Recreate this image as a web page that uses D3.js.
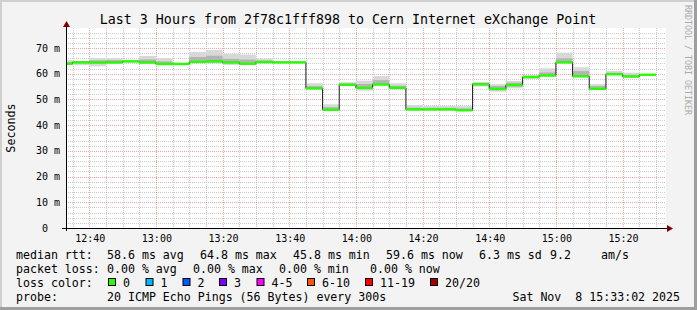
<!DOCTYPE html>
<html>
<head>
<meta charset="utf-8">
<script src="https://cdn.jsdelivr.net/npm/d3@7"></script>
<style>
  html, body { margin: 0; padding: 0; background: #f3f3f3; }
  svg { display: block; font-family: "DejaVu Sans Mono", monospace; }
  text { white-space: pre; }
</style>
</head>
<body>
<div id="chart"></div>
<script>
// ---- data (5 minute steps, median rtt in ms) ----
const stepStarts = ["12:30","12:35","12:40","12:45","12:50","12:55","13:00","13:05","13:10","13:15","13:20","13:25",
  "13:30","13:35","13:40","13:45","13:50","13:55","14:00","14:05","14:10","14:15","14:20","14:25",
  "14:30","14:35","14:40","14:45","14:50","14:55","15:00","15:05","15:10","15:15","15:20","15:25"];
const medianRtt = [63.9,64.4,64.4,64.4,64.8,64.4,63.8,63.8,64.6,64.8,64.4,63.9,
  64.5,64.4,64.4,54.3,46.0,55.7,54.5,55.8,54.5,46.1,46.1,46.1,
  45.8,55.9,54.1,55.6,58.7,59.3,64.4,59.0,54.1,59.8,58.9,59.6];
const smokeMin = [63.5,63.3,62.9,63.8,64.4,63.7,63.4,63.5,64.1,64.0,63.4,63.5,
  64.2,64.2,64.2,53.8,45.7,55.4,53.4,55.5,54.2,45.8,45.8,45.8,
  45.5,55.0,53.0,54.3,58.0,59.0,64.1,58.6,53.7,59.5,58.6,59.4];
const smokeMax = [65.3,65.0,66.1,66.1,65.2,66.9,66.0,64.2,68.5,69.2,67.7,67.5,
  65.9,64.7,64.7,56.3,48.1,56.7,57.3,59.1,56.3,47.8,47.5,47.5,
  47.4,56.8,55.9,57.2,59.5,62.1,68.2,62.5,56.0,61.1,60.4,59.9];
const smokeInnerLo = [63.7,64.0,63.8,64.1,64.6,64.0,63.6,63.6,64.4,64.4,63.9,63.7,
  64.3,64.3,64.3,54.0,45.9,55.5,54.0,55.7,54.3,45.9,45.9,45.9,
  45.6,55.5,53.6,55.0,58.4,59.1,64.2,58.8,53.9,59.6,58.7,59.5];
const smokeInnerHi = [64.6,64.8,65.2,65.3,65.0,65.6,64.8,64.0,66.5,67.0,65.8,65.5,
  65.2,64.6,64.6,55.2,47.0,56.2,56.0,57.5,55.3,46.8,46.7,46.7,
  46.5,56.4,55.2,56.5,59.1,60.5,66.0,61.0,55.2,60.4,59.6,59.8];

const yTicks = [0, 10, 20, 30, 40, 50, 60, 70];
const lossLabels = ["0", "1", "2", "3", "4-5", "6-10", "11-19", "20/20"];
const lossColors = ["#26ff00", "#00b8ff", "#0059ff", "#7e00ff", "#ff00ff", "#ff5500", "#ff0000", "#a00000"];

const W = 697, H = 310;
const x0 = 66, x1 = 666, yTop = 28, yBot = 228;

const parse = d3.timeParse("%Y-%m-%d %H:%M:%S");
const day = "2025-11-08 ";
const tStart = parse(day + "12:33:02"), tEnd = parse(day + "15:33:02");

const x = d3.scaleTime().domain([tStart, tEnd]).range([x0, x1]);
const y = d3.scaleLinear().domain([0, 77.78]).range([yBot, yTop]);

const steps = stepStarts.map((s, i) => {
  const t0 = parse(day + s + ":00");
  return {
    t0: t0, t1: d3.timeMinute.offset(t0, 5),
    med: medianRtt[i], lo: smokeMin[i], hi: smokeMax[i],
    ilo: smokeInnerLo[i], ihi: smokeInnerHi[i]
  };
});

const svg = d3.select("#chart").append("svg")
  .attr("width", W).attr("height", H);

// background + frame
svg.append("rect").attr("width", W).attr("height", H).attr("fill", "#f3f3f3");
svg.append("rect").attr("x", 0).attr("y", 0).attr("width", W).attr("height", 2).attr("fill", "#cfcfcf");
svg.append("rect").attr("x", 0).attr("y", 0).attr("width", 2).attr("height", H).attr("fill", "#cfcfcf");
svg.append("rect").attr("x", W - 3).attr("y", 0).attr("width", 3).attr("height", H).attr("fill", "#9e9e9e");
svg.append("rect").attr("x", 0).attr("y", H - 3).attr("width", W).attr("height", 3).attr("fill", "#9e9e9e");

// canvas
svg.append("rect").attr("x", x0).attr("y", yTop).attr("width", x1 - x0).attr("height", yBot - yTop).attr("fill", "#fff");

svg.append("clipPath").attr("id", "plot")
  .append("rect").attr("x", x0).attr("y", yTop).attr("width", x1 - x0).attr("height", yBot - yTop);

/* ---------- grid ---------- */
const grid = svg.append("g");
const majorT = x.ticks(d3.timeMinute.every(20));
const minorT = x.ticks(d3.timeMinute.every(5)).filter(t => t.getMinutes() % 20 !== 0);
const minorY = y.ticks(40).filter(v => v % 10 !== 0);

grid.selectAll(".vmin").data(minorT).enter().append("line")
  .attr("x1", d => Math.round(x(d)) + 0.5).attr("x2", d => Math.round(x(d)) + 0.5)
  .attr("y1", yTop).attr("y2", yBot)
  .attr("stroke", "rgba(143,143,143,0.45)").attr("stroke-dasharray", "1,1");
grid.selectAll(".hmin").data(minorY).enter().append("line")
  .attr("x1", x0).attr("x2", x1)
  .attr("y1", d => Math.round(y(d)) + 0.5).attr("y2", d => Math.round(y(d)) + 0.5)
  .attr("stroke", "rgba(143,143,143,0.45)").attr("stroke-dasharray", "1,1");
grid.selectAll(".vmaj").data(majorT).enter().append("line")
  .attr("x1", d => Math.round(x(d)) + 0.5).attr("x2", d => Math.round(x(d)) + 0.5)
  .attr("y1", yTop).attr("y2", yBot)
  .attr("stroke", "rgba(222,80,80,0.5)").attr("stroke-dasharray", "1,1");
grid.selectAll(".hmaj").data(yTicks.filter(v => v > 0)).enter().append("line")
  .attr("x1", x0).attr("x2", x1)
  .attr("y1", d => Math.round(y(d)) + 0.5).attr("y2", d => Math.round(y(d)) + 0.5)
  .attr("stroke", "rgba(222,80,80,0.5)").attr("stroke-dasharray", "1,1");

/* ---------- smoke, median ---------- */
const g = svg.append("g").attr("clip-path", "url(#plot)");

g.selectAll(".smoke").data(steps).enter().append("rect")
  .attr("x", d => x(d.t0)).attr("width", d => x(d.t1) - x(d.t0))
  .attr("y", d => y(d.hi)).attr("height", d => y(d.lo) - y(d.hi))
  .attr("fill", "#d8d8d8");
g.selectAll(".smokein").data(steps).enter().append("rect")
  .attr("x", d => x(d.t0)).attr("width", d => x(d.t1) - x(d.t0))
  .attr("y", d => y(d.ihi)).attr("height", d => y(d.ilo) - y(d.ihi))
  .attr("fill", "#b4b4b4");

const linePts = steps.map(d => [d.t0, d.med]);
linePts.push([steps[steps.length - 1].t1, steps[steps.length - 1].med]);
g.append("path").datum(linePts)
  .attr("d", d3.line().x(d => x(d[0])).y(d => y(d[1])).curve(d3.curveStepAfter))
  .attr("fill", "none").attr("stroke", "#202020").attr("stroke-width", 1);

g.selectAll(".med").data(steps).enter().append("rect")
  .attr("x", d => x(d.t0)).attr("width", d => x(d.t1) - x(d.t0))
  .attr("y", d => y(d.med) - 1.2).attr("height", 2.4)
  .attr("fill", lossColors[0]);

/* ---------- axes ---------- */
svg.append("line").attr("x1", 62).attr("x2", 668).attr("y1", yBot + 0.5).attr("y2", yBot + 0.5)
  .attr("stroke", "#000");
svg.append("line").attr("x1", x0 + 0.5).attr("x2", x0 + 0.5).attr("y1", yBot + 3).attr("y2", 25)
  .attr("stroke", "#000");
svg.append("path").attr("d", `M667,${yBot - 3}L673,${yBot + 0.5}L667,${yBot + 4}Z`).attr("fill", "#7f0000");
svg.append("path").attr("d", `M${x0 - 3},27L${x0 + 0.5},21L${x0 + 4},27Z`).attr("fill", "#7f0000");

svg.selectAll(".ylab").data(yTicks).enter().append("text")
  .attr("x", 60).attr("y", d => y(d) + 3.5)
  .attr("text-anchor", "end").attr("font-size", 10).attr("fill", "#000")
  .text(d => d === 0 ? "0  " : d + " m");

const fmt = d3.timeFormat("%H:%M");
svg.selectAll(".xlab").data(majorT).enter().append("text")
  .attr("x", d => x(d) + 1).attr("y", 242)
  .attr("text-anchor", "middle").attr("font-size", 10).attr("fill", "#000")
  .text(d => fmt(d));

/* ---------- titles ---------- */
svg.append("text").attr("x", 348).attr("y", 24).attr("text-anchor", "middle")
  .attr("font-size", 13.3).attr("fill", "#000")
  .text("Last 3 Hours from 2f78c1fff898 to Cern Internet eXchange Point");

svg.append("text").attr("transform", "translate(11,128) rotate(-90)")
  .attr("text-anchor", "middle").attr("dominant-baseline", "central")
  .attr("font-size", 11.7).attr("fill", "#000").text("Seconds");

svg.append("text").attr("transform", "translate(687.5,5) rotate(90)")
  .attr("dominant-baseline", "central")
  .attr("font-size", 8.3).attr("fill", "#aaa").text("RRDTOOL / TOBI OETIKER");

/* ---------- legend ---------- */
const lg = svg.append("g").attr("font-size", 11.6).attr("fill", "#000");
const rows = [258.5, 272.5, 286.5, 300.5];
function put(txt, xx, row) { lg.append("text").attr("x", xx).attr("y", rows[row]).text(txt); }

put("median rtt:", 16, 0);
put("58.6 ms avg", 107, 0);
put("64.8 ms max", 200, 0);
put("45.8 ms min", 293, 0);
put("59.6 ms now", 386, 0);
put("6.3 ms sd", 479, 0);
put("9.2", 550, 0);
put("am/s", 601, 0);

put("packet loss:", 16, 1);
put("0.00 % avg", 107, 1);
put("0.00 % max", 193, 1);
put("0.00 % min", 279, 1);
put("0.00 % now", 370, 1);

put("loss color:", 16, 2);
const sqX = [108, 145.5, 182.5, 219, 256.5, 307, 365, 430];
lossLabels.forEach((l, i) => {
  lg.append("rect").attr("x", sqX[i] + 0.5).attr("y", 278.5).attr("width", 7).attr("height", 7)
    .attr("fill", lossColors[i]).attr("stroke", "#000").attr("stroke-width", 1);
  put(l, sqX[i] + 15, 2);
});

put("probe:", 16, 3);
put("20 ICMP Echo Pings (56 Bytes) every 300s", 107, 3);
lg.append("text").attr("x", 680).attr("y", rows[3]).attr("text-anchor", "end")
  .text("Sat Nov  8 15:33:02 2025");
</script>
</body>
</html>
